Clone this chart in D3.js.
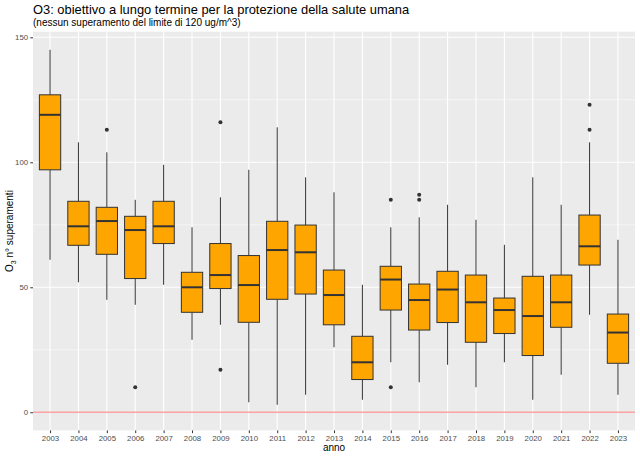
<!DOCTYPE html>
<html>
<head>
<meta charset="utf-8">
<script src="https://cdn.jsdelivr.net/npm/d3@7"></script>
<style>
  html, body { margin: 0; padding: 0; background: #fff; }
  svg { display: block; font-family: "Liberation Sans", Arial, Helvetica, sans-serif; }
</style>
</head>
<body>
<svg id="chart" width="640" height="457"></svg>
<script>
const years = ["2003","2004","2005","2006","2007","2008","2009","2010","2011","2012","2013","2014","2015","2016","2017","2018","2019","2020","2021","2022","2023"];
const whiskerLow  = [61, 52, 45, 43, 51, 29, 35, 4, 3, 7, 26, 5, 20, 12, 19, 10, 20, 5, 15, 39, 7];
const q1          = [97, 66.8, 63.2, 53.5, 67.5, 40, 49.5, 36, 45.2, 47.3, 35, 13.1, 40.9, 32.9, 35.9, 28, 31.5, 22.7, 34, 58.9, 19.6];
const median      = [119, 74.4, 76.5, 72.9, 74.4, 50, 54.9, 50.9, 64.9, 64, 46.9, 20, 53.1, 44.9, 49.1, 44, 40.9, 38.5, 44, 66.4, 31.9];
const q3          = [127, 84.4, 82, 78.4, 84.4, 56, 67.5, 62.7, 76.4, 74.9, 56.9, 30.4, 58.4, 51.3, 56.4, 54.9, 45.7, 54.4, 54.9, 78.9, 39.3];
const whiskerHigh = [145, 108, 104, 85, 99, 74, 86, 97, 114, 94, 88, 51, 74, 78, 83, 77, 67, 94, 83, 108, 69];
const outlierYears  = ["2005","2006","2009","2009","2015","2015","2016","2016","2022","2022"];
const outlierValues = [113, 10, 116, 17, 85, 10, 87, 85, 123, 113];
const yTicks = [0, 50, 100, 150];
const yMinorTicks = [25, 75, 125];
const limitValue = 0;

const svg = d3.select("#chart");
const panel = { left: 33, right: 635, top: 31.7, bottom: 430.4 };

const step = (panel.right - panel.left) / (years.length - 1 + 1.2);
const x = d3.scalePoint().domain(years)
  .range([panel.left + 0.6 * step, panel.right - 0.6 * step]);
const y = d3.scaleLinear().domain([-7.25, 152.25]).range([panel.bottom, panel.top]);
const boxW = step * 0.75;

svg.append("rect").attr("x", panel.left).attr("y", panel.top)
  .attr("width", panel.right - panel.left).attr("height", panel.bottom - panel.top)
  .attr("fill", "#EBEBEB");

const grid = svg.append("g");
grid.selectAll("line.minor").data(yMinorTicks).join("line")
  .attr("x1", panel.left).attr("x2", panel.right)
  .attr("y1", d => y(d)).attr("y2", d => y(d))
  .attr("stroke", "#fff").attr("stroke-width", 0.55);
grid.selectAll("line.majy").data(yTicks).join("line")
  .attr("x1", panel.left).attr("x2", panel.right)
  .attr("y1", d => y(d)).attr("y2", d => y(d))
  .attr("stroke", "#fff").attr("stroke-width", 1.1);
grid.selectAll("line.majx").data(years).join("line")
  .attr("y1", panel.top).attr("y2", panel.bottom)
  .attr("x1", d => x(d)).attr("x2", d => x(d))
  .attr("stroke", "#fff").attr("stroke-width", 1.1);

svg.append("line").attr("x1", panel.left).attr("x2", panel.right)
  .attr("y1", y(limitValue)).attr("y2", y(limitValue))
  .attr("stroke", "#FF0000").attr("stroke-opacity", 0.35).attr("stroke-width", 1.5);

const boxes = svg.append("g").selectAll("g").data(years).join("g");
boxes.append("line")
  .attr("x1", d => x(d)).attr("x2", d => x(d))
  .attr("y1", (d, i) => y(whiskerHigh[i])).attr("y2", (d, i) => y(q3[i]))
  .attr("stroke", "#333333").attr("stroke-width", 1);
boxes.append("line")
  .attr("x1", d => x(d)).attr("x2", d => x(d))
  .attr("y1", (d, i) => y(q1[i])).attr("y2", (d, i) => y(whiskerLow[i]))
  .attr("stroke", "#333333").attr("stroke-width", 1);
boxes.append("rect")
  .attr("x", d => x(d) - boxW / 2).attr("width", boxW)
  .attr("y", (d, i) => y(q3[i])).attr("height", (d, i) => y(q1[i]) - y(q3[i]))
  .attr("fill", "#FFA500").attr("stroke", "#333333").attr("stroke-width", 1);
boxes.append("line")
  .attr("x1", d => x(d) - boxW / 2).attr("x2", d => x(d) + boxW / 2)
  .attr("y1", (d, i) => y(median[i])).attr("y2", (d, i) => y(median[i]))
  .attr("stroke", "#333333").attr("stroke-width", 2);

svg.append("g").selectAll("circle").data(outlierValues).join("circle")
  .attr("cx", (d, i) => x(outlierYears[i])).attr("cy", d => y(d))
  .attr("r", 2).attr("fill", "#333333");

const yAxis = svg.append("g").attr("transform", `translate(${panel.left},0)`)
  .call(d3.axisLeft(y).tickValues(yTicks).tickSize(2.75).tickPadding(2.2));
yAxis.select(".domain").remove();
yAxis.selectAll("line").attr("stroke", "#333333");
yAxis.selectAll("text").attr("fill", "#4D4D4D").style("font-size", "7.8px")
  .style("font-family", "Liberation Sans, Arial, sans-serif");

const xAxis = svg.append("g").attr("transform", `translate(0,${panel.bottom})`)
  .call(d3.axisBottom(x).tickSize(2.75).tickPadding(2.5));
xAxis.select(".domain").remove();
xAxis.selectAll("line").attr("stroke", "#333333");
xAxis.selectAll("text").attr("fill", "#4D4D4D").style("font-size", "7.8px")
  .style("font-family", "Liberation Sans, Arial, sans-serif");

svg.append("text").attr("x", (panel.left + panel.right) / 2).attr("y", 451)
  .attr("text-anchor", "middle").attr("fill", "#000").style("font-size", "10px")
  .text("anno");

const yt = svg.append("text")
  .attr("transform", `translate(13,${(panel.top + panel.bottom) / 2}) rotate(-90)`)
  .attr("text-anchor", "middle").attr("fill", "#000").style("font-size", "10px");
yt.append("tspan").text("O");
yt.append("tspan").attr("dy", 2.5).style("font-size", "7px").text("3");
yt.append("tspan").attr("dy", -2.5).text(" n° superamenti");

svg.append("text").attr("x", panel.left).attr("y", 14)
  .attr("fill", "#000").style("font-size", "12.9px")
  .text("O3: obiettivo a lungo termine per la protezione della salute umana");
svg.append("text").attr("x", panel.left).attr("y", 25.5)
  .attr("fill", "#000").style("font-size", "10px")
  .text("(nessun superamento del limite di 120 ug/m^3)");
</script>
</body>
</html>
